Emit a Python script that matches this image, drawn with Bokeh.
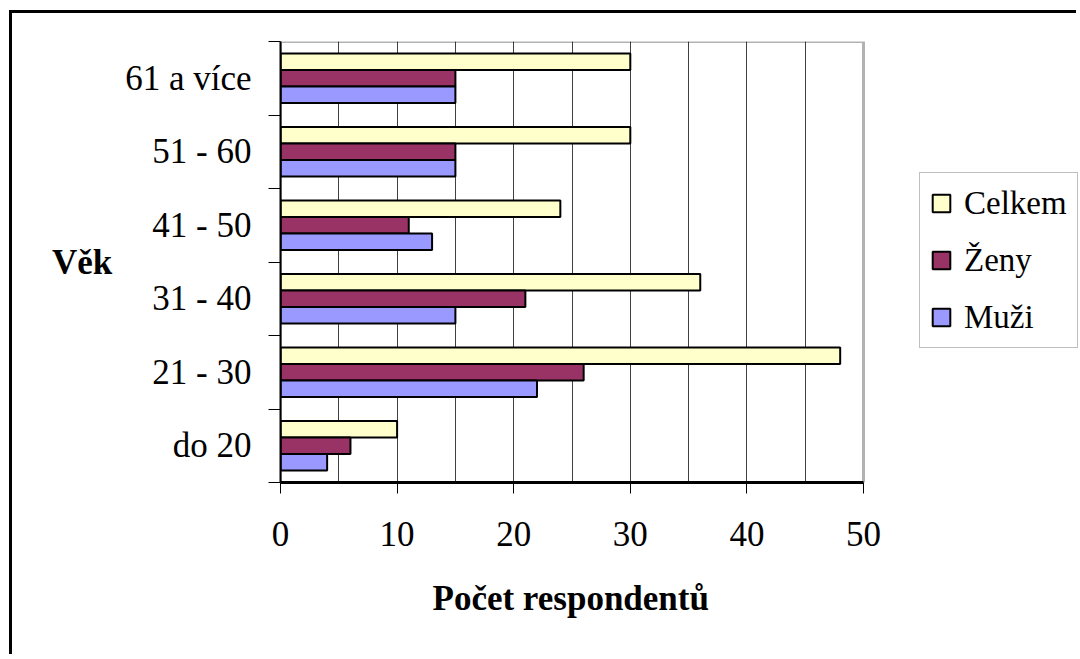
from bokeh.plotting import figure
from bokeh.models import (ColumnDataSource, Range1d, FixedTicker, Legend, LegendItem,
                          BoxAnnotation, Title)
from bokeh.transform import dodge
from bokeh.embed import file_html
from bokeh.resources import INLINE

categories = ["do 20", "21 - 30", "31 - 40", "41 - 50", "51 - 60", "61 a více"]
celkem = [10, 48, 36, 24, 30, 30]
zeny = [6, 26, 21, 11, 15, 15]
muzi = [4, 22, 15, 13, 15, 15]
x_ticks = [0, 10, 20, 30, 40, 50]
grid_ticks = [5, 10, 15, 20, 25, 30, 35, 40, 45]
series_names = ["Celkem", "Ženy", "Muži"]
colors = ["#FFFFCC", "#993366", "#9999FF"]
x_title = "Počet respondentů"
y_title = "Věk"

FONT = "Liberation Serif"
FS = "35px"
FS_LEG = "33px"

XMAX = 50
PLOT_W = 583          # pixel width of the value axis 0..50
CANVAS_W = 1067
LEFT = 268
x_end = XMAX * (CANVAS_W - LEFT) / PLOT_W   # frame continues to the right to hold the legend

ypos = [i + 0.5 for i in range(len(categories))]
src = ColumnDataSource(dict(y=ypos, cat=categories, Celkem=celkem, Zeny=zeny, Muzi=muzi))

p = figure(width=CANVAS_W, height=644, x_range=Range1d(0, x_end), y_range=Range1d(0, len(categories)),
           output_backend="svg", toolbar_location=None,
           min_border_left=LEFT, min_border_right=0, min_border_top=28, min_border_bottom=175)
p.margin = (10, 0, 0, 9)
p.styles = {"border-left": "3px solid black", "border-top": "3px solid black"}

bw = 0.224
r1 = p.hbar(y=dodge("y", bw, range=p.y_range), right="Celkem", height=bw, left=0, source=src,
            fill_color=colors[0], line_color="black", line_width=2)
r2 = p.hbar(y=dodge("y", 0, range=p.y_range), right="Zeny", height=bw, left=0, source=src,
            fill_color=colors[1], line_color="black", line_width=2)
r3 = p.hbar(y=dodge("y", -bw, range=p.y_range), right="Muzi", height=bw, left=0, source=src,
            fill_color=colors[2], line_color="black", line_width=2)

# x axis
p.xaxis.ticker = FixedTicker(ticks=x_ticks)
p.xaxis.bounds = (0, XMAX)
p.xaxis.major_tick_out = 11
p.xaxis.major_tick_in = 0
p.xaxis.minor_tick_out = 0
p.xaxis.minor_tick_in = 0
p.xaxis.axis_line_width = 3
p.xaxis.axis_line_color = "black"
p.xaxis.major_tick_line_color = "black"
p.xaxis.major_label_text_font = FONT
p.xaxis.major_label_text_font_size = FS
p.xaxis.major_label_text_color = "black"
p.xaxis.major_label_standoff = 28

# x title, centred under the 0..50 part of the axis
p.add_layout(Title(text=x_title, align="left", offset=152, standoff=56,
                   text_font=FONT, text_font_size=FS, text_font_style="bold",
                   text_color="black"), "below")

# y axis: labels at centres, ticks at category boundaries
p.yaxis.ticker = FixedTicker(ticks=ypos, minor_ticks=list(range(len(categories) + 1)))
p.yaxis.major_label_overrides = {y: c for y, c in zip(ypos, categories)}
p.yaxis.major_tick_out = 0
p.yaxis.major_tick_in = 0
p.yaxis.minor_tick_out = 12
p.yaxis.minor_tick_in = 0
p.yaxis.minor_tick_line_color = "black"
p.yaxis.axis_line_width = 2
p.yaxis.axis_line_color = "black"
p.yaxis.major_label_text_font = FONT
p.yaxis.major_label_text_font_size = FS
p.yaxis.major_label_text_color = "black"
p.yaxis.major_label_standoff = 17
p.yaxis.axis_label = y_title
p.yaxis.axis_label_orientation = "horizontal"
p.yaxis.axis_label_text_font = FONT
p.yaxis.axis_label_text_font_size = FS
p.yaxis.axis_label_text_font_style = "bold"
p.yaxis.axis_label_text_color = "black"
p.yaxis.axis_label_standoff = 10

p.xgrid.ticker = FixedTicker(ticks=grid_ticks)
p.xgrid.grid_line_color = "#404040"
p.xgrid.grid_line_width = 1
p.ygrid.grid_line_color = None

p.outline_line_color = None
p.background_fill_color = "white"
p.border_fill_color = "white"

# border of the plot area (0..50 by all categories)
p.add_layout(BoxAnnotation(left=0, right=XMAX, bottom=0, top=len(categories),
                           fill_alpha=0, line_color="black", line_width=3))

legend = Legend(items=[LegendItem(label=series_names[0], renderers=[r1]),
                       LegendItem(label=series_names[1], renderers=[r2]),
                       LegendItem(label=series_names[2], renderers=[r3])],
                location=(639, 134))
legend.label_text_font = FONT
legend.label_text_font_size = FS_LEG
legend.label_text_color = "black"
legend.glyph_width = 22
legend.glyph_height = 22
legend.label_standoff = 12
legend.label_height = 40
legend.spacing = 17
legend.padding = 10
legend.margin = 0
legend.border_line_color = "#808080"
legend.border_line_width = 1
legend.background_fill_color = "white"
legend.background_fill_alpha = 1
p.add_layout(legend, "center")

open("out.html", "w").write(file_html(p, INLINE))
